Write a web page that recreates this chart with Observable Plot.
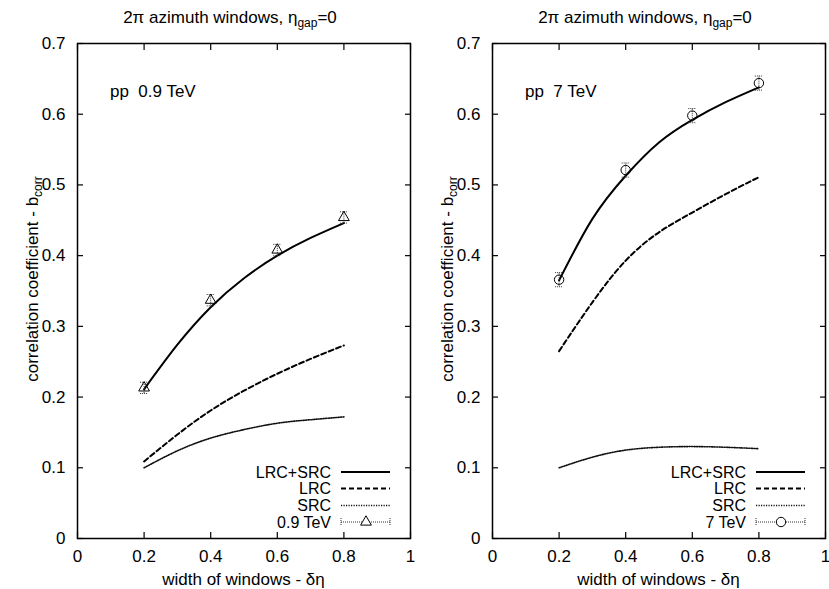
<!DOCTYPE html>
<html><head><meta charset="utf-8">
<script src="https://cdn.jsdelivr.net/npm/d3@7"></script>
<script src="https://cdn.jsdelivr.net/npm/@observablehq/plot@0.6"></script>
<style>
body{margin:0;background:#fff;}
#chart{display:flex;width:829px;height:589px;}
svg{font-family:"Liberation Sans",Arial,Helvetica,sans-serif;}
</style></head><body><div id="chart"></div>
<script>
// ---- data ----
const curveX = [0.2, 0.3, 0.4, 0.5, 0.6, 0.7, 0.8];
const lrcSrc09 = [0.211, 0.274, 0.327, 0.368, 0.400, 0.425, 0.446];
const lrc09    = [0.109, 0.147, 0.181, 0.209, 0.233, 0.254, 0.273];
const src09    = [0.100, 0.124, 0.142, 0.154, 0.163, 0.168, 0.172];
const lrcSrc7  = [0.365, 0.452, 0.513, 0.560, 0.592, 0.617, 0.638];
const lrc7     = [0.265, 0.334, 0.393, 0.433, 0.461, 0.487, 0.511];
const src7     = [0.100, 0.115, 0.125, 0.129, 0.130, 0.129, 0.127];
const pointX   = [0.2, 0.4, 0.6, 0.8];
const data09   = [0.213, 0.337, 0.408, 0.454];
const err09    = [0.008, 0.008, 0.008, 0.008];
const data7    = [0.366, 0.521, 0.598, 0.644];
const err7     = [0.010, 0.010, 0.010, 0.010];
const xTicks = [0, 0.2, 0.4, 0.6, 0.8, 1];
const yTicks = [0, 0.1, 0.2, 0.3, 0.4, 0.5, 0.6, 0.7];
const titleMain = "2π azimuth windows, η", titleSub = "gap", titleEnd = "=0";
const yLabelMain = "correlation coefficient - b", yLabelSub = "corr";
const xLabel = "width of windows - δη";
const legendNames = ["LRC+SRC", "LRC", "SRC"];

const panels = [
  {width: 415, ml: 77, mr: 5, note: "pp\u00a0\u00a00.9 TeV", dataName: "0.9 TeV", symbol: "triangle", r: 4,
   total: lrcSrc09, lrc: lrc09, src: src09, pts: data09, err: err09},
  {width: 414, ml: 77, mr: 4, note: "pp\u00a0\u00a07 TeV", dataName: "7 TeV", symbol: "circle", r: 4.7,
   total: lrcSrc7, lrc: lrc7, src: src7, pts: data7, err: err7}
];

const FS = "17px", SUB = "12px", LFS = "16px";
const fmt = d3.format("~g");
const hline = {draw(ctx, size) { const r = Math.sqrt(size / Math.PI); ctx.moveTo(-r, 0); ctx.lineTo(r, 0); }};
const H = 589, MT = 43, MB = 51;
const styles = {
  total: {stroke: "black", strokeWidth: 2},
  lrc: {stroke: "black", strokeWidth: 2, strokeDasharray: "5,3"},
  src: {stroke: "#111", strokeWidth: 1.6, strokeDasharray: "1.2,1.3"},
  err: {stroke: "#333", strokeWidth: 1, strokeDasharray: "1,1"}
};

for (const p of panels) {
  const curves = curveX.map((x, i) => ({x, total: p.total[i], lrc: p.lrc[i], src: p.src[i]}));
  const pts = pointX.map((x, i) => ({x, y: p.pts[i], lo: p.pts[i] - p.err[i], hi: p.pts[i] + p.err[i]}));
  const svg = Plot.plot({
    width: p.width, height: H,
    marginLeft: p.ml, marginRight: p.mr, marginTop: MT, marginBottom: MB,
    style: {fontFamily: "'Liberation Sans', Arial, sans-serif", fontSize: FS, background: "white", color: "black", overflow: "visible"},
    x: {domain: [0, 1]},
    y: {domain: [0, 0.7]},
    marks: [
      Plot.line(curves, {x: "x", y: "src", curve: "natural", ...styles.src}),
      Plot.line(curves, {x: "x", y: "lrc", curve: "natural", ...styles.lrc}),
      Plot.line(curves, {x: "x", y: "total", curve: "natural", ...styles.total}),
      Plot.ruleX(pts, {x: "x", y1: "lo", y2: "hi", ...styles.err}),
      Plot.dot(pts, {x: "x", y: "lo", symbol: hline, r: 4, fill: "none", ...styles.err}),
      Plot.dot(pts, {x: "x", y: "hi", symbol: hline, r: 4, fill: "none", ...styles.err}),
      Plot.dot(pts, {x: "x", y: "y", symbol: p.symbol, r: p.r, fill: "none", stroke: "black", strokeWidth: 1}),
      Plot.axisX({anchor: "bottom", ticks: xTicks, tickSize: -6, tickFormat: () => "", label: null, strokeWidth: 1.2}),
      Plot.axisX({anchor: "top", ticks: xTicks, tickSize: -6, tickFormat: () => "", label: null, strokeWidth: 1.2}),
      Plot.axisY({anchor: "left", ticks: yTicks, tickSize: -6, tickFormat: () => "", label: null, strokeWidth: 1.2}),
      Plot.axisY({anchor: "right", ticks: yTicks, tickSize: -6, tickFormat: () => "", label: null, strokeWidth: 1.2}),
      Plot.axisX({anchor: "bottom", ticks: xTicks, tickSize: 0, tickPadding: 11, tickFormat: fmt, label: null}),
      Plot.axisY({anchor: "left", ticks: yTicks, tickSize: 0, tickPadding: 12, tickFormat: fmt, label: null}),
      Plot.frame({stroke: "black", strokeWidth: 1.5})
    ]
  });
  const s = d3.select(svg);
  const L = p.ml, R = p.width - p.mr, B = H - MB, cx = (L + R) / 2;
  const txt = (g, fs = FS) => g.attr("fill", "black").style("font-size", fs);
  // title
  const t = s.append("text").attr("x", L + 153).attr("y", 23).attr("text-anchor", "middle").call(txt);
  t.append("tspan").text(titleMain);
  t.append("tspan").attr("dy", 4).style("font-size", SUB).text(titleSub);
  t.append("tspan").attr("dy", -4).text(titleEnd);
  // y label
  const yl = s.append("text").attr("transform", `translate(38,279) rotate(-90)`).attr("text-anchor", "middle").call(txt);
  yl.append("tspan").text(yLabelMain);
  yl.append("tspan").attr("dy", 3.5).style("font-size", SUB).text(yLabelSub);
  // x label
  s.append("text").attr("x", cx).attr("y", 585).attr("text-anchor", "middle").call(txt).text(xLabel);
  // note
  s.append("text").attr("x", L + 33).attr("y", 97).attr("text-anchor", "start").call(txt).text(p.note);
  // legend
  const rows = [66, 49.5, 32.5, 16];
  const keys = ["total", "lrc", "src"];
  const lg = s.append("g");
  keys.forEach((k, i) => {
    const y = B - rows[i];
    lg.append("text").attr("x", R - 79).attr("y", y).attr("dy", "0.35em").attr("text-anchor", "end").call(txt, LFS).text(legendNames[i]);
    const ln = lg.append("line").attr("x1", R - 69).attr("x2", R - 20).attr("y1", y).attr("y2", y)
      .attr("stroke", styles[k].stroke).attr("stroke-width", styles[k].strokeWidth);
    if (styles[k].strokeDasharray) ln.attr("stroke-dasharray", styles[k].strokeDasharray);
  });
  const y4 = B - rows[3];
  lg.append("text").attr("x", R - 79).attr("y", y4).attr("dy", "0.35em").attr("text-anchor", "end").call(txt, LFS).text(p.dataName);
  lg.append("line").attr("x1", R - 69).attr("x2", R - 20).attr("y1", y4).attr("y2", y4)
    .attr("stroke", "#333").attr("stroke-dasharray", "1,1");
  [R - 69, R - 20].forEach(x => lg.append("line").attr("x1", x).attr("x2", x).attr("y1", y4 - 4).attr("y2", y4 + 4)
    .attr("stroke", "#333").attr("stroke-dasharray", "1,1"));
  const sym = p.symbol === "triangle" ? d3.symbolTriangle : d3.symbolCircle;
  lg.append("path").attr("transform", `translate(${R - 44},${y4})`).attr("d", d3.symbol(sym, p.r * p.r * Math.PI)())
    .attr("fill", "white").attr("stroke", "black");
  document.getElementById("chart").appendChild(svg);
}
</script>
</body></html>
